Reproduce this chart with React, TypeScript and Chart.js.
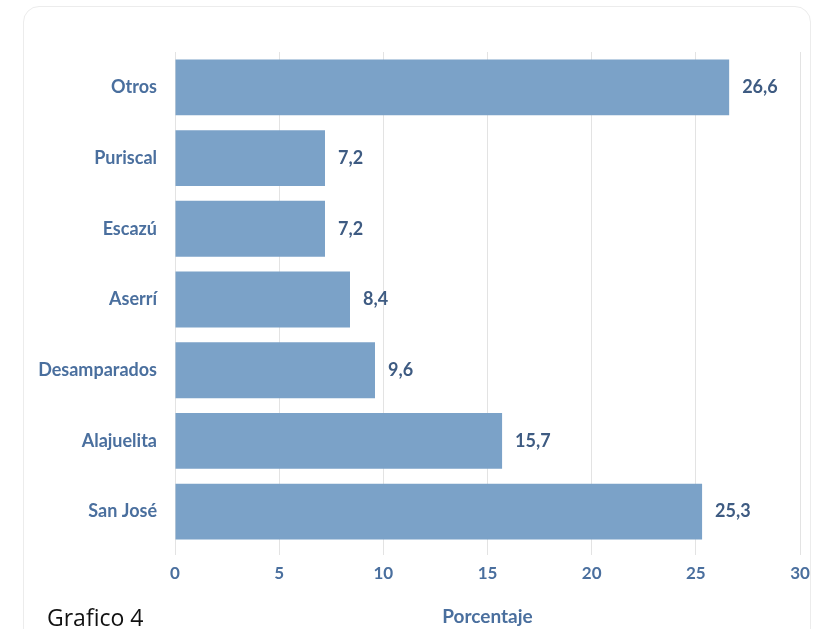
import React, { useEffect, useRef } from "react";
import { Chart, registerables } from "chart.js";

Chart.register(...registerables);

const categories = ["Otros", "Puriscal", "Escazú", "Aserrí", "Desamparados", "Alajuelita", "San José"];
const values = [26.6, 7.2, 7.2, 8.4, 9.6, 15.7, 25.3];
const xTicks = [0, 5, 10, 15, 20, 25, 30];
const axisTitle = "Porcentaje";
const caption = "Grafico 4";

const FONT = "Lato, 'Open Sans', sans-serif";
const TICK_COLOR = "#4a6f9e";
const LABEL_COLOR = "#3e5b82";
const BAR_COLOR = "#7ba2c8";

const valueLabels = {
  id: "valueLabels",
  afterDatasetsDraw(chart: any) {
    const ctx = chart.ctx;
    const meta = chart.getDatasetMeta(0);
    ctx.save();
    ctx.font = `bold 18px ${FONT}`;
    ctx.fillStyle = LABEL_COLOR;
    ctx.textAlign = "left";
    ctx.textBaseline = "middle";
    meta.data.forEach((bar: any, i: number) => {
      const v = values[i];
      ctx.fillText(v.toFixed(1).replace(".", ","), bar.x + 13, bar.y);
    });
    ctx.restore();
  },
};

export default function App() {
  const ref = useRef<HTMLCanvasElement>(null);
  useEffect(() => {
    if (!ref.current) return;
    const chart = new Chart(ref.current, {
      type: "bar",
      data: {
        labels: categories,
        datasets: [
          {
            data: values,
            backgroundColor: BAR_COLOR,
            borderWidth: 0,
            barPercentage: 0.79,
            categoryPercentage: 1,
          },
        ],
      },
      options: {
        indexAxis: "y",
        animation: false,
        responsive: false,
        layout: { padding: { left: 0, right: 18, top: 52, bottom: 0 } },
        plugins: {
          legend: { display: false },
          tooltip: { enabled: false },
        },
        scales: {
          x: {
            min: 0,
            max: 30,
            afterBuildTicks: (scale: any) => {
              scale.ticks = xTicks.map((v) => ({ value: v }));
            },
            afterFit: (scale: any) => {
              scale.height = 82;
            },
            grid: {
              color: "#e3e3e3",
              lineWidth: 1,
              tickLength: 8,
              drawTicks: true,
            },
            border: { display: false },
            ticks: {
              color: TICK_COLOR,
              font: { family: FONT, size: 17, weight: "bold" },
              padding: 8,
            },
            title: {
              display: true,
              text: axisTitle,
              color: TICK_COLOR,
              font: { family: FONT, size: 19, weight: "bold" },
              padding: { top: 0, bottom: 1 },
            },
          },
          y: {
            afterFit: (scale: any) => {
              scale.width = 175;
            },
            grid: { display: false, drawTicks: false },
            border: { display: false },
            ticks: {
              color: TICK_COLOR,
              font: { family: FONT, size: 18, weight: "bold" },
              padding: 18,
            },
          },
        },
      },
      plugins: [valueLabels],
    });
    return () => chart.destroy();
  }, []);

  return (
    <div style={{ position: "absolute", left: 0, top: 0, width: 818, height: 629, background: "#fff", overflow: "hidden" }}>
      <div
        style={{
          position: "absolute",
          left: 23,
          top: 6,
          width: 788,
          height: 640,
          border: "1.5px solid #ececec",
          borderRadius: 16,
          boxSizing: "border-box",
        }}
      />
      <canvas ref={ref} width={818} height={629} style={{ position: "absolute", left: 0, top: 0 }} />
      <div
        style={{
          position: "absolute",
          left: 47,
          top: 602,
          fontFamily: "'Open Sans', sans-serif",
          fontSize: 23,
          color: "#111",
          lineHeight: "30px",
        }}
      >
        {caption}
      </div>
    </div>
  );
}
